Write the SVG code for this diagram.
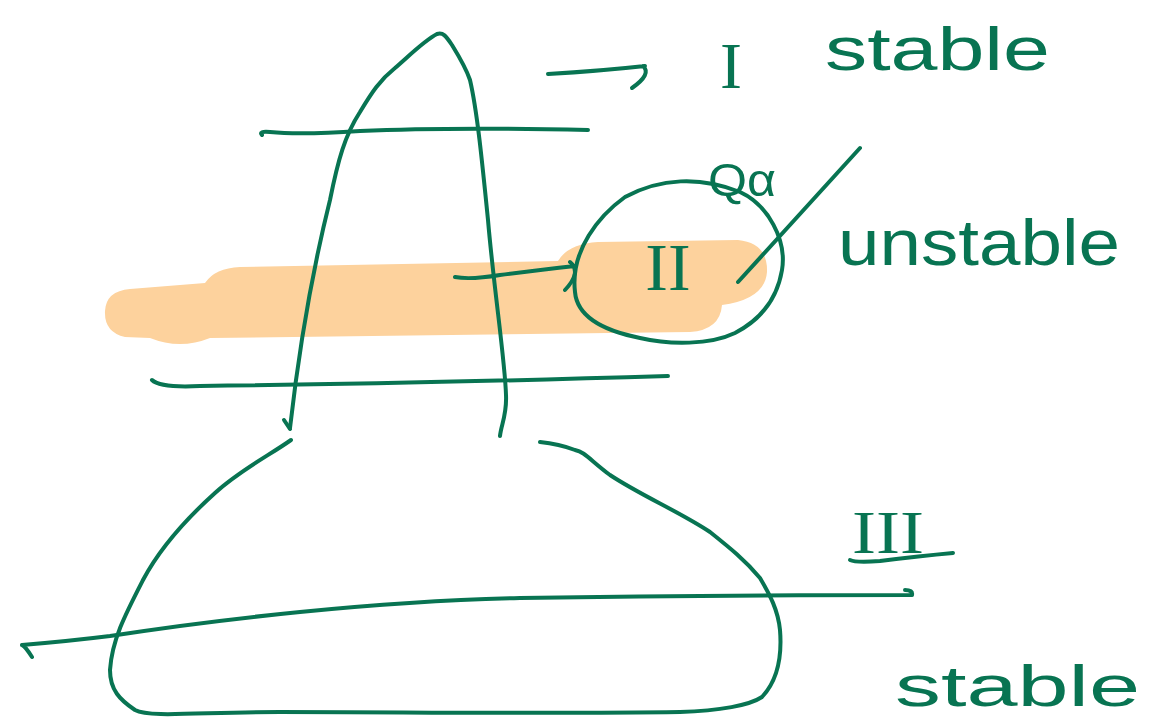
<svg xmlns="http://www.w3.org/2000/svg" width="1160" height="721" viewBox="0 0 1160 721">
<style>
.ink{fill:none;stroke:#087452;stroke-width:4;stroke-linecap:round;stroke-linejoin:round}
.lbl{fill:#087452;font-family:"Liberation Sans",Arial,sans-serif}
.rom{fill:#087452;font-family:"Liberation Serif","Times New Roman",serif}
</style>
<rect width="1160" height="721" fill="#ffffff"/>
<g id="highlight">
<path d="M130,289 L205,283 Q215,268 240,267 L558,261 Q568,244 598,242 L738,240 Q768,243 767,272 Q765,299 722,305 Q720,330 690,332 L210,338 Q180,350 150,338 L125,337 Q104,332 105,311 Q106,291 130,289 Z" fill="#FDD29D"/>
</g>
<g id="peak">
<path class="ink" d="M290,428 C300,340 315,260 330,200 C338,160 345,135 360,112 C372,92 380,80 395,68 C410,55 425,40 437,34 C443,32 446,36 452,45 C460,58 466,68 470,80 C477,110 482,160 488,220 C494,290 505,360 506,395 C507,415 501,425 500,436"/>
<path class="ink" d="M284,420 L290,429"/>
</g>
<g id="connectors">
<path class="ink" d="M262,135 Q258,131 270,132 Q300,135 360,131 Q450,127 588,130"/>
<path class="ink" d="M548,74 Q600,71 645,66 M643,66 Q652,74 632,88"/>
<path class="ink" d="M455,277 Q470,280 500,275 Q540,270 575,266 M570,262 Q582,272 565,290"/>
<path class="ink" d="M152,380 Q160,388 200,386 Q400,384 668,376"/>
<path class="ink" d="M860,148 L738,282"/>
<path class="ink" d="M22,645 Q25,646 32,657 M22,645 Q70,641 110,636 Q200,622 300,612 Q420,600 520,598 Q700,595 912,595 Q913,590 905,590"/>
<path class="ink" d="M850,560 Q856,563 880,561 Q920,556 953,553"/>
</g>
<g id="circle">
<path class="ink" d="M575,292 C570,250 600,215 625,197 C660,178 700,176 740,192 C768,205 787,240 782,270 C777,300 760,320 735,333 C710,345 670,345 640,338 C600,330 577,315 575,292 Z"/>
</g>
<g id="bell">
<path class="ink" d="M291,440 C270,455 240,470 215,493 C185,520 160,548 143,580 C125,615 112,640 110,670 C110,690 120,700 135,710 C150,718 200,712 280,712 C400,712 550,714 680,712 C720,711 750,705 762,697 C778,680 782,655 780,630 C778,610 770,595 760,578 C745,560 730,548 710,532 C680,512 640,495 610,475 C590,460 585,452 575,450 C562,445 550,443 540,442"/>
</g>
<g id="label-I">
<text class="rom" x="731" y="88" font-size="66" text-anchor="middle">I</text>
<text class="lbl" x="825" y="70" font-size="62" textLength="225" lengthAdjust="spacingAndGlyphs">stable</text>
</g>
<g id="label-II">
<text class="rom" x="668" y="290" font-size="68" text-anchor="middle">II</text>
<text class="lbl" x="708" y="196" font-size="46" textLength="68" lengthAdjust="spacingAndGlyphs">Qα</text>
<text class="lbl" x="838" y="265" font-size="64" textLength="282" lengthAdjust="spacingAndGlyphs">unstable</text>
</g>
<g id="label-III">
<text class="rom" x="852" y="553" font-size="62" textLength="72" lengthAdjust="spacingAndGlyphs">III</text>
<text class="lbl" x="895" y="706" font-size="58" textLength="245" lengthAdjust="spacingAndGlyphs">stable</text>
</g>
</svg>
